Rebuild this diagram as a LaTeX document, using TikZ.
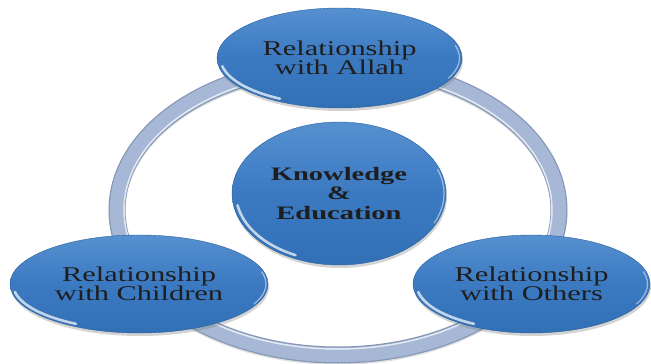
\documentclass[tikz,border=0pt]{standalone}
\usepackage{fontspec}
\setmainfont{Liberation Serif}
\usetikzlibrary{shapes.geometric,shadows}

\definecolor{bubbleblue}{HTML}{3B79C1}
\definecolor{bubbletop}{HTML}{5690D0}
\definecolor{bubblebot}{HTML}{3270B6}
\definecolor{ringsteel}{HTML}{A6B8D6}
\definecolor{ringedge}{HTML}{8597B6}
\definecolor{inktext}{HTML}{1E1E1E}

% the text in the reference is stretched sideways
\newcommand{\xwide}[2][1.45]{\scalebox{#1}[1]{#2}}

\tikzset{
  bubble/.style={ellipse, inner sep=0pt, align=center, text=inktext,
    top color=bubbletop, bottom color=bubblebot, middle color=bubbleblue,
    draw=bubblebot!85!black, line width=0.4pt,
    drop shadow={opacity=0.35, shadow xshift=1pt, shadow yshift=-3pt},
    font=\fontsize{21}{19.5}\selectfont},
  glint/.style={white, line width=2.6pt, line cap=round, opacity=0.7},
  rim/.style={white, line width=1.2pt, line cap=round, opacity=0.5},
}

\begin{document}
\begin{tikzpicture}[x=1pt,y=1pt]
\useasboundingbox (0,0) rectangle (651,-364);
% ring behind the bubbles
\coordinate (hub) at (338,-210);
\draw [black!30, line width=16pt, opacity=0.4] ([yshift=-2pt]hub) ellipse [x radius=221, y radius=145];
\draw [ringedge, line width=17pt] (hub) ellipse [x radius=221, y radius=145];
\draw [ringsteel, line width=14.5pt] (hub) ellipse [x radius=221, y radius=145];
\draw [white, line width=1.5pt, opacity=0.7] (hub) ellipse [x radius=214, y radius=139];
% bubbles
\node [bubble, minimum width=245, minimum height=100] (allah) at (339.5,-58)
  {\xwide{Relationship}\\ \xwide{with Allah}};
\node [bubble, minimum width=214, minimum height=143, font=\bfseries\fontsize{19}{19.5}\selectfont] (knowledge) at (339,-193.5)
  {\xwide[1.5]{Knowledge}\\ \xwide[1.5]{\&}\\ \xwide[1.5]{Education}};
\node [bubble, minimum width=258, minimum height=98] (children) at (139,-284)
  {\xwide{Relationship}\\ \xwide{with Children}};
\node [bubble, minimum width=237, minimum height=98] (others) at (531.5,-284)
  {\xwide{Relationship}\\ \xwide{with Others}};
% highlights
\draw [glint] (allah.center) ++(190:119 and 47) arc [start angle=190, end angle=240, x radius=119, y radius=47];
\draw [rim] (allah.center) ++(-25:120 and 48) arc [start angle=-25, end angle=15, x radius=120, y radius=48];
\draw [glint] (knowledge.center) ++(190:103 and 68) arc [start angle=190, end angle=245, x radius=103, y radius=68];
\draw [rim] (knowledge.center) ++(-25:105 and 70) arc [start angle=-25, end angle=20, x radius=105, y radius=70];
\draw [glint] (children.center) ++(190:126 and 46) arc [start angle=190, end angle=240, x radius=126, y radius=46];
\draw [rim] (children.center) ++(-25:127 and 47) arc [start angle=-25, end angle=15, x radius=127, y radius=47];
\draw [glint] (others.center) ++(190:115 and 46) arc [start angle=190, end angle=240, x radius=115, y radius=46];
\draw [rim] (others.center) ++(-25:116 and 47) arc [start angle=-25, end angle=15, x radius=116, y radius=47];
\end{tikzpicture}
\end{document}
